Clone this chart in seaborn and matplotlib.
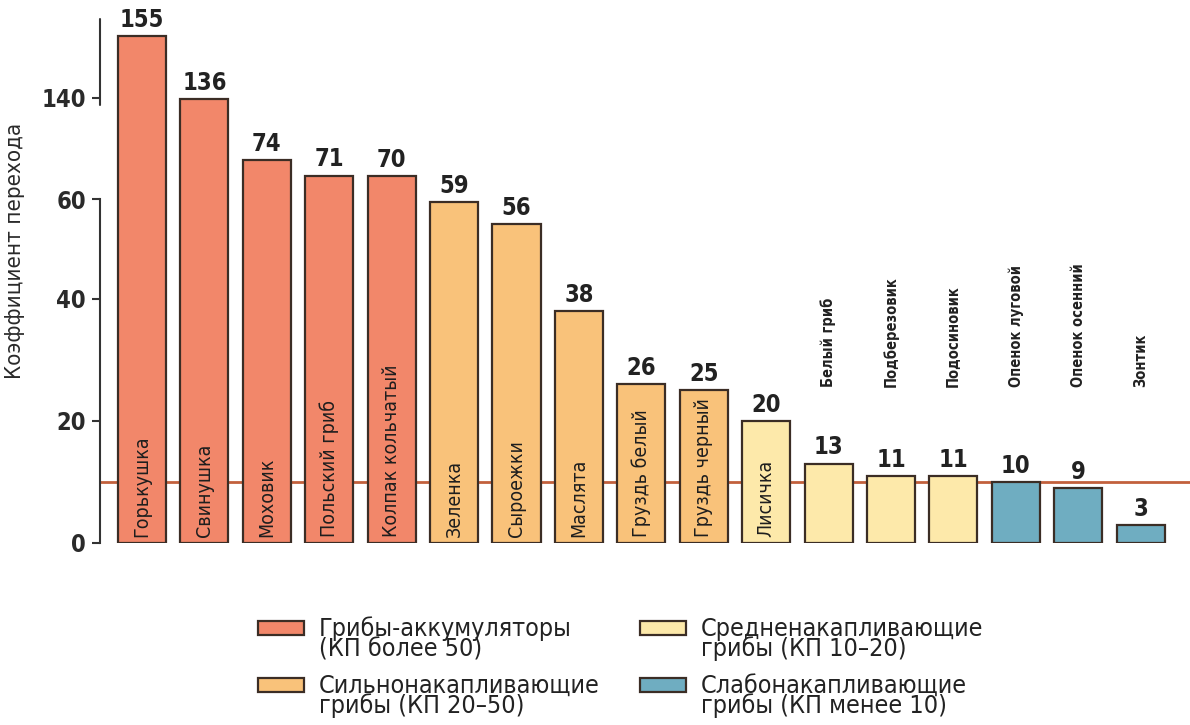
import numpy as np
import pandas as pd
import seaborn as sns
import matplotlib.pyplot as plt
from matplotlib.patches import Patch, Rectangle
from matplotlib.legend_handler import HandlerPatch
from matplotlib.transforms import blended_transform_factory

# data
mushrooms = ['Горькушка', 'Свинушка', 'Моховик', 'Польский гриб', 'Колпак кольчатый',
             'Зеленка', 'Сыроежки', 'Маслята', 'Груздь белый', 'Груздь черный',
             'Лисичка', 'Белый гриб', 'Подберезовик', 'Подосиновик',
             'Опенок луговой', 'Опенок осенний', 'Зонтик']
values = [155, 136, 74, 71, 70, 59, 56, 38, 26, 25, 20, 13, 11, 11, 10, 9, 3]
groups = ['acc'] * 5 + ['strong'] * 5 + ['medium'] * 4 + ['weak'] * 3
group_labels = ['Грибы-аккумуляторы\n(КП более 50)',
                'Сильнонакапливающие\nгрибы (КП 20–50)',
                'Средненакапливающие\nгрибы (КП 10–20)',
                'Слабонакапливающие\nгрибы (КП менее 10)']
group_keys = ['acc', 'strong', 'medium', 'weak']
yticks = [0, 20, 40, 60, 140]
threshold = 10

colors = {'acc': '#F2876A', 'strong': '#F9C27A', 'medium': '#FDE9AA', 'weak': '#6FADC1'}
edge = '#3b2d25'

sns.set_style('white')
plt.rcParams['font.family'] = ['DejaVu Sans']
plt.rcParams['font.stretch'] = 'condensed'
plt.rcParams['text.color'] = '#222222'

# the original axis is broken / not to scale above 60
val_knots = [0, 40, 56, 59, 70, 71, 74, 136, 140, 155, 170]
pos_knots = [0, 40, 52.3, 55.9, 60.1, 60.2, 62.8, 72.8, 72.95, 83, 87]

def fwd(v):
    return np.interp(v, val_knots, pos_knots)

def inv(p):
    return np.interp(p, pos_knots, val_knots)

# legend swatch sits next to the first line of the label
def top_patch(legend, orig_handle, xdescent, ydescent, width, height, fontsize):
    return Rectangle((-xdescent, -ydescent + 0.45 * fontsize), width, height)

df = pd.DataFrame({'name': mushrooms, 'value': values, 'group': groups})

fig = plt.figure(figsize=(11.9, 7.25), dpi=100)
ax = fig.add_axes([100 / 1190, 1 - 543 / 725, 1090 / 1190, 531 / 725])
ax.set_yscale('function', functions=(fwd, inv))

ax.axhline(threshold, color='#C2603C', lw=2, zorder=0)
sns.barplot(data=df, x='name', y='value', hue='group', order=mushrooms, palette=colors,
            saturation=1, dodge=False, width=0.77, edgecolor=edge, linewidth=1.6,
            legend=False, ax=ax, zorder=2)

ax.set_ylim(0, 170)
ax.set_xlim(-0.673, 16.79)
ax.set_yticks(yticks)
ax.set_yticklabels([str(t) for t in yticks], fontsize=17, fontweight='bold', color='#2a2a2a')
ax.tick_params(axis='y', direction='out', length=6, width=1.5, color='#333333', pad=4, left=True)
ax.set_xticks([])
ax.set_xlabel('')
ax.set_ylabel('Коэффициент перехода', fontsize=16, color='#2a2a2a')
ax.yaxis.set_label_coords(-0.069, 0.55)

for s in ['top', 'right', 'bottom']:
    ax.spines[s].set_visible(False)
ax.spines['left'].set_bounds(0, 60)
ax.spines['left'].set_color('#333333')
ax.spines['left'].set_linewidth(1.5)
tr = blended_transform_factory(ax.transAxes, ax.transData)
ax.plot([0, 0], [130, 166], color='#333333', lw=1.5, transform=tr, clip_on=False)

for i, (name, v) in enumerate(zip(mushrooms, values)):
    ax.annotate(str(v), (i, v), xytext=(0, 3), textcoords='offset points',
                ha='center', va='bottom', fontsize=17, fontweight='bold', color='#222222')
    if v >= 20:
        ax.text(i, 1, name, rotation=90, ha='center', va='bottom', fontsize=14, color='#1e1e1e')
    else:
        ax.text(i, 25.5, name, rotation=90, ha='center', va='bottom', fontsize=10.5,
                fontweight='bold', color='#222222')

handles = [Patch(facecolor=colors[k], edgecolor=edge, linewidth=1.6) for k in group_keys]
leg = fig.legend(handles, group_labels, ncol=2, loc='upper left',
                 bbox_to_anchor=(245 / 1190, 1 - 604 / 725), frameon=False,
                 prop={'size': 18}, handlelength=1.85, handleheight=0.5, handletextpad=0.6,
                 columnspacing=1.6, labelspacing=0.48, borderpad=0,
                 handler_map={Patch: HandlerPatch(patch_func=top_patch)})
for t in leg.get_texts():
    t.set_linespacing(0.8)

fig.savefig('out.png', dpi=100)
